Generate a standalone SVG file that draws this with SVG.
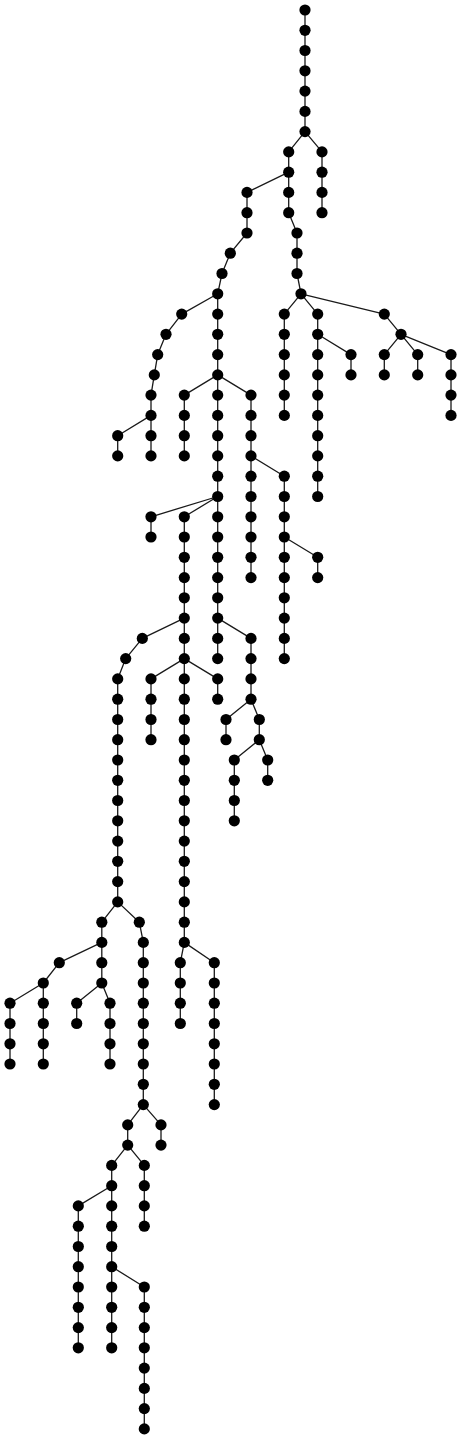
<svg xmlns="http://www.w3.org/2000/svg" width="462" height="1439" viewBox="0 0 462 1439">
<style>
.e{fill:none;stroke:#1a1a1a;stroke-width:1.3;stroke-linejoin:round}
circle{fill:#000}
</style>
<rect width="462" height="1439" fill="#fff"/>
<g id="connectors" class="e">
<polyline points="305,10 305,131.6"/>
<polyline points="305,131.6 322,151.9 322,212.7"/>
<polyline points="305,131.6 288.7,151.9 288.7,212.7 297,233 297,273.5 301,293.8"/>
<polyline points="288.7,172.2 247,192.4 247,233 230.3,253.2 222,273.5 217.7,293.8 217.7,658.6"/>
<polyline points="301,293.8 284.3,314.1 284.3,415.4"/>
<polyline points="301,293.8 317.7,314.1 317.7,496.5"/>
<polyline points="317.7,334.3 351,354.6 351,374.9"/>
<polyline points="301,293.8 384.3,314.1 401,334.3 384.3,354.6 384.3,374.9"/>
<polyline points="401,334.3 417.7,354.6 417.7,374.9"/>
<polyline points="401,334.3 451,354.6 451,415.4"/>
<polyline points="217.7,293.8 181.7,314.1 166,334.3 157.7,354.6 154.3,374.9 151,395.1 151,455.9"/>
<polyline points="151,415.4 117.7,435.7 117.7,455.9"/>
<polyline points="217.7,374.9 184.3,395.1 184.3,455.9"/>
<polyline points="217.7,374.9 251,395.1 251,577.6"/>
<polyline points="251,455.9 284.3,476.2 284.3,658.6"/>
<polyline points="284.3,537 317.7,557.3 317.7,577.6"/>
<polyline points="217.7,496.5 151,516.8 151,537"/>
<polyline points="217.7,496.5 184.3,516.8 184.3,942.4"/>
<polyline points="184.3,618.1 142.3,638.4 125.7,658.6 117.7,678.9 117.7,901.9"/>
<polyline points="184.3,658.6 151,678.9 151,739.7"/>
<polyline points="184.3,658.6 217.7,678.9 217.7,699.2"/>
<polyline points="217.7,618.1 251,638.4 251,699.2"/>
<polyline points="251,699.2 226,719.5 226,739.7"/>
<polyline points="251,699.2 259.3,719.5 259.3,739.7"/>
<polyline points="259.3,739.7 234.3,760 234.3,820.8"/>
<polyline points="259.3,739.7 267.7,760 267.7,780.3"/>
<polyline points="184.3,942.4 180.3,962.7 180.3,1023.5"/>
<polyline points="184.3,942.4 214.3,962.7 214.3,1104.6"/>
<polyline points="117.7,901.9 101.8,922.2 101.8,983"/>
<polyline points="101.8,942.4 59.3,962.7 43.3,983 43.3,1064"/>
<polyline points="43.3,983 10,1003.2 10,1064"/>
<polyline points="101.8,983 76.7,1003.2 76.7,1023.5"/>
<polyline points="101.8,983 110,1003.2 110,1064"/>
<polyline points="117.7,901.9 139.3,922.2 143.3,942.4 143.3,1104.6"/>
<polyline points="143.3,1104.6 127.7,1124.9 127.7,1145.1"/>
<polyline points="143.3,1104.6 161,1124.9 161,1145.1"/>
<polyline points="127.7,1145.1 111.7,1165.4 111.7,1347.8"/>
<polyline points="127.7,1145.1 144.3,1165.4 144.3,1226.2"/>
<polyline points="111.7,1185.7 78.3,1205.9 78.3,1347.8"/>
<polyline points="111.7,1266.7 144.3,1287 144.3,1428.9"/>
</g>
<g id="nodes">
<g id="n1"><circle cx="305" cy="10" r="5.6"/></g>
<g id="n2"><circle cx="305" cy="30.3" r="5.6"/></g>
<g id="n3"><circle cx="305" cy="50.5" r="5.6"/></g>
<g id="n4"><circle cx="305" cy="70.8" r="5.6"/></g>
<g id="n5"><circle cx="305" cy="91.1" r="5.6"/></g>
<g id="n6"><circle cx="305" cy="111.4" r="5.6"/></g>
<g id="n7"><circle cx="305" cy="131.6" r="5.6"/></g>
<g id="n8"><circle cx="322" cy="151.9" r="5.6"/></g>
<g id="n9"><circle cx="322" cy="172.2" r="5.6"/></g>
<g id="n10"><circle cx="322" cy="192.4" r="5.6"/></g>
<g id="n11"><circle cx="322" cy="212.7" r="5.6"/></g>
<g id="n12"><circle cx="288.7" cy="151.9" r="5.6"/></g>
<g id="n13"><circle cx="288.7" cy="172.2" r="5.6"/></g>
<g id="n14"><circle cx="288.7" cy="192.4" r="5.6"/></g>
<g id="n15"><circle cx="288.7" cy="212.7" r="5.6"/></g>
<g id="n16"><circle cx="247" cy="192.4" r="5.6"/></g>
<g id="n17"><circle cx="247" cy="212.7" r="5.6"/></g>
<g id="n18"><circle cx="247" cy="233" r="5.6"/></g>
<g id="n19"><circle cx="230.3" cy="253.2" r="5.6"/></g>
<g id="n20"><circle cx="222" cy="273.5" r="5.6"/></g>
<g id="n21"><circle cx="217.7" cy="293.8" r="5.6"/></g>
<g id="n22"><circle cx="217.7" cy="314.1" r="5.6"/></g>
<g id="n23"><circle cx="217.7" cy="334.3" r="5.6"/></g>
<g id="n24"><circle cx="217.7" cy="354.6" r="5.6"/></g>
<g id="n25"><circle cx="217.7" cy="374.9" r="5.6"/></g>
<g id="n26"><circle cx="217.7" cy="395.1" r="5.6"/></g>
<g id="n27"><circle cx="217.7" cy="415.4" r="5.6"/></g>
<g id="n28"><circle cx="217.7" cy="435.7" r="5.6"/></g>
<g id="n29"><circle cx="217.7" cy="455.9" r="5.6"/></g>
<g id="n30"><circle cx="217.7" cy="476.2" r="5.6"/></g>
<g id="n31"><circle cx="217.7" cy="496.5" r="5.6"/></g>
<g id="n32"><circle cx="217.7" cy="516.8" r="5.6"/></g>
<g id="n33"><circle cx="217.7" cy="537" r="5.6"/></g>
<g id="n34"><circle cx="217.7" cy="557.3" r="5.6"/></g>
<g id="n35"><circle cx="217.7" cy="577.6" r="5.6"/></g>
<g id="n36"><circle cx="217.7" cy="597.8" r="5.6"/></g>
<g id="n37"><circle cx="217.7" cy="618.1" r="5.6"/></g>
<g id="n38"><circle cx="217.7" cy="638.4" r="5.6"/></g>
<g id="n39"><circle cx="217.7" cy="658.6" r="5.6"/></g>
<g id="n40"><circle cx="297" cy="233" r="5.6"/></g>
<g id="n41"><circle cx="297" cy="253.2" r="5.6"/></g>
<g id="n42"><circle cx="297" cy="273.5" r="5.6"/></g>
<g id="n43"><circle cx="301" cy="293.8" r="5.6"/></g>
<g id="n44"><circle cx="284.3" cy="314.1" r="5.6"/></g>
<g id="n45"><circle cx="284.3" cy="334.3" r="5.6"/></g>
<g id="n46"><circle cx="284.3" cy="354.6" r="5.6"/></g>
<g id="n47"><circle cx="284.3" cy="374.9" r="5.6"/></g>
<g id="n48"><circle cx="284.3" cy="395.1" r="5.6"/></g>
<g id="n49"><circle cx="284.3" cy="415.4" r="5.6"/></g>
<g id="n50"><circle cx="317.7" cy="314.1" r="5.6"/></g>
<g id="n51"><circle cx="317.7" cy="334.3" r="5.6"/></g>
<g id="n52"><circle cx="317.7" cy="354.6" r="5.6"/></g>
<g id="n53"><circle cx="317.7" cy="374.9" r="5.6"/></g>
<g id="n54"><circle cx="317.7" cy="395.1" r="5.6"/></g>
<g id="n55"><circle cx="317.7" cy="415.4" r="5.6"/></g>
<g id="n56"><circle cx="317.7" cy="435.7" r="5.6"/></g>
<g id="n57"><circle cx="317.7" cy="455.9" r="5.6"/></g>
<g id="n58"><circle cx="317.7" cy="476.2" r="5.6"/></g>
<g id="n59"><circle cx="317.7" cy="496.5" r="5.6"/></g>
<g id="n60"><circle cx="351" cy="354.6" r="5.6"/></g>
<g id="n61"><circle cx="351" cy="374.9" r="5.6"/></g>
<g id="n62"><circle cx="384.3" cy="314.1" r="5.6"/></g>
<g id="n63"><circle cx="401" cy="334.3" r="5.6"/></g>
<g id="n64"><circle cx="384.3" cy="354.6" r="5.6"/></g>
<g id="n65"><circle cx="384.3" cy="374.9" r="5.6"/></g>
<g id="n66"><circle cx="417.7" cy="354.6" r="5.6"/></g>
<g id="n67"><circle cx="417.7" cy="374.9" r="5.6"/></g>
<g id="n68"><circle cx="451" cy="354.6" r="5.6"/></g>
<g id="n69"><circle cx="451" cy="374.9" r="5.6"/></g>
<g id="n70"><circle cx="451" cy="395.1" r="5.6"/></g>
<g id="n71"><circle cx="451" cy="415.4" r="5.6"/></g>
<g id="n72"><circle cx="181.7" cy="314.1" r="5.6"/></g>
<g id="n73"><circle cx="166" cy="334.3" r="5.6"/></g>
<g id="n74"><circle cx="157.7" cy="354.6" r="5.6"/></g>
<g id="n75"><circle cx="154.3" cy="374.9" r="5.6"/></g>
<g id="n76"><circle cx="151" cy="395.1" r="5.6"/></g>
<g id="n77"><circle cx="151" cy="415.4" r="5.6"/></g>
<g id="n78"><circle cx="151" cy="435.7" r="5.6"/></g>
<g id="n79"><circle cx="151" cy="455.9" r="5.6"/></g>
<g id="n80"><circle cx="117.7" cy="435.7" r="5.6"/></g>
<g id="n81"><circle cx="117.7" cy="455.9" r="5.6"/></g>
<g id="n82"><circle cx="184.3" cy="395.1" r="5.6"/></g>
<g id="n83"><circle cx="184.3" cy="415.4" r="5.6"/></g>
<g id="n84"><circle cx="184.3" cy="435.7" r="5.6"/></g>
<g id="n85"><circle cx="184.3" cy="455.9" r="5.6"/></g>
<g id="n86"><circle cx="251" cy="395.1" r="5.6"/></g>
<g id="n87"><circle cx="251" cy="415.4" r="5.6"/></g>
<g id="n88"><circle cx="251" cy="435.7" r="5.6"/></g>
<g id="n89"><circle cx="251" cy="455.9" r="5.6"/></g>
<g id="n90"><circle cx="251" cy="476.2" r="5.6"/></g>
<g id="n91"><circle cx="251" cy="496.5" r="5.6"/></g>
<g id="n92"><circle cx="251" cy="516.8" r="5.6"/></g>
<g id="n93"><circle cx="251" cy="537" r="5.6"/></g>
<g id="n94"><circle cx="251" cy="557.3" r="5.6"/></g>
<g id="n95"><circle cx="251" cy="577.6" r="5.6"/></g>
<g id="n96"><circle cx="284.3" cy="476.2" r="5.6"/></g>
<g id="n97"><circle cx="284.3" cy="496.5" r="5.6"/></g>
<g id="n98"><circle cx="284.3" cy="516.8" r="5.6"/></g>
<g id="n99"><circle cx="284.3" cy="537" r="5.6"/></g>
<g id="n100"><circle cx="284.3" cy="557.3" r="5.6"/></g>
<g id="n101"><circle cx="284.3" cy="577.6" r="5.6"/></g>
<g id="n102"><circle cx="284.3" cy="597.8" r="5.6"/></g>
<g id="n103"><circle cx="284.3" cy="618.1" r="5.6"/></g>
<g id="n104"><circle cx="284.3" cy="638.4" r="5.6"/></g>
<g id="n105"><circle cx="284.3" cy="658.6" r="5.6"/></g>
<g id="n106"><circle cx="317.7" cy="557.3" r="5.6"/></g>
<g id="n107"><circle cx="317.7" cy="577.6" r="5.6"/></g>
<g id="n108"><circle cx="151" cy="516.8" r="5.6"/></g>
<g id="n109"><circle cx="151" cy="537" r="5.6"/></g>
<g id="n110"><circle cx="184.3" cy="516.8" r="5.6"/></g>
<g id="n111"><circle cx="184.3" cy="537" r="5.6"/></g>
<g id="n112"><circle cx="184.3" cy="557.3" r="5.6"/></g>
<g id="n113"><circle cx="184.3" cy="577.6" r="5.6"/></g>
<g id="n114"><circle cx="184.3" cy="597.8" r="5.6"/></g>
<g id="n115"><circle cx="184.3" cy="618.1" r="5.6"/></g>
<g id="n116"><circle cx="184.3" cy="638.4" r="5.6"/></g>
<g id="n117"><circle cx="184.3" cy="658.6" r="5.6"/></g>
<g id="n118"><circle cx="184.3" cy="678.9" r="5.6"/></g>
<g id="n119"><circle cx="184.3" cy="699.2" r="5.6"/></g>
<g id="n120"><circle cx="184.3" cy="719.5" r="5.6"/></g>
<g id="n121"><circle cx="184.3" cy="739.7" r="5.6"/></g>
<g id="n122"><circle cx="184.3" cy="760" r="5.6"/></g>
<g id="n123"><circle cx="184.3" cy="780.3" r="5.6"/></g>
<g id="n124"><circle cx="184.3" cy="800.5" r="5.6"/></g>
<g id="n125"><circle cx="184.3" cy="820.8" r="5.6"/></g>
<g id="n126"><circle cx="184.3" cy="841.1" r="5.6"/></g>
<g id="n127"><circle cx="184.3" cy="861.3" r="5.6"/></g>
<g id="n128"><circle cx="184.3" cy="881.6" r="5.6"/></g>
<g id="n129"><circle cx="184.3" cy="901.9" r="5.6"/></g>
<g id="n130"><circle cx="184.3" cy="922.2" r="5.6"/></g>
<g id="n131"><circle cx="184.3" cy="942.4" r="5.6"/></g>
<g id="n132"><circle cx="142.3" cy="638.4" r="5.6"/></g>
<g id="n133"><circle cx="125.7" cy="658.6" r="5.6"/></g>
<g id="n134"><circle cx="117.7" cy="678.9" r="5.6"/></g>
<g id="n135"><circle cx="117.7" cy="699.2" r="5.6"/></g>
<g id="n136"><circle cx="117.7" cy="719.5" r="5.6"/></g>
<g id="n137"><circle cx="117.7" cy="739.7" r="5.6"/></g>
<g id="n138"><circle cx="117.7" cy="760" r="5.6"/></g>
<g id="n139"><circle cx="117.7" cy="780.3" r="5.6"/></g>
<g id="n140"><circle cx="117.7" cy="800.5" r="5.6"/></g>
<g id="n141"><circle cx="117.7" cy="820.8" r="5.6"/></g>
<g id="n142"><circle cx="117.7" cy="841.1" r="5.6"/></g>
<g id="n143"><circle cx="117.7" cy="861.3" r="5.6"/></g>
<g id="n144"><circle cx="117.7" cy="881.6" r="5.6"/></g>
<g id="n145"><circle cx="117.7" cy="901.9" r="5.6"/></g>
<g id="n146"><circle cx="151" cy="678.9" r="5.6"/></g>
<g id="n147"><circle cx="151" cy="699.2" r="5.6"/></g>
<g id="n148"><circle cx="151" cy="719.5" r="5.6"/></g>
<g id="n149"><circle cx="151" cy="739.7" r="5.6"/></g>
<g id="n150"><circle cx="217.7" cy="678.9" r="5.6"/></g>
<g id="n151"><circle cx="217.7" cy="699.2" r="5.6"/></g>
<g id="n152"><circle cx="251" cy="638.4" r="5.6"/></g>
<g id="n153"><circle cx="251" cy="658.6" r="5.6"/></g>
<g id="n154"><circle cx="251" cy="678.9" r="5.6"/></g>
<g id="n155"><circle cx="251" cy="699.2" r="5.6"/></g>
<g id="n156"><circle cx="226" cy="719.5" r="5.6"/></g>
<g id="n157"><circle cx="226" cy="739.7" r="5.6"/></g>
<g id="n158"><circle cx="259.3" cy="719.5" r="5.6"/></g>
<g id="n159"><circle cx="259.3" cy="739.7" r="5.6"/></g>
<g id="n160"><circle cx="234.3" cy="760" r="5.6"/></g>
<g id="n161"><circle cx="234.3" cy="780.3" r="5.6"/></g>
<g id="n162"><circle cx="234.3" cy="800.5" r="5.6"/></g>
<g id="n163"><circle cx="234.3" cy="820.8" r="5.6"/></g>
<g id="n164"><circle cx="267.7" cy="760" r="5.6"/></g>
<g id="n165"><circle cx="267.7" cy="780.3" r="5.6"/></g>
<g id="n166"><circle cx="180.3" cy="962.7" r="5.6"/></g>
<g id="n167"><circle cx="180.3" cy="983" r="5.6"/></g>
<g id="n168"><circle cx="180.3" cy="1003.2" r="5.6"/></g>
<g id="n169"><circle cx="180.3" cy="1023.5" r="5.6"/></g>
<g id="n170"><circle cx="214.3" cy="962.7" r="5.6"/></g>
<g id="n171"><circle cx="214.3" cy="983" r="5.6"/></g>
<g id="n172"><circle cx="214.3" cy="1003.2" r="5.6"/></g>
<g id="n173"><circle cx="214.3" cy="1023.5" r="5.6"/></g>
<g id="n174"><circle cx="214.3" cy="1043.8" r="5.6"/></g>
<g id="n175"><circle cx="214.3" cy="1064" r="5.6"/></g>
<g id="n176"><circle cx="214.3" cy="1084.3" r="5.6"/></g>
<g id="n177"><circle cx="214.3" cy="1104.6" r="5.6"/></g>
<g id="n178"><circle cx="101.8" cy="922.2" r="5.6"/></g>
<g id="n179"><circle cx="101.8" cy="942.4" r="5.6"/></g>
<g id="n180"><circle cx="101.8" cy="962.7" r="5.6"/></g>
<g id="n181"><circle cx="101.8" cy="983" r="5.6"/></g>
<g id="n182"><circle cx="59.3" cy="962.7" r="5.6"/></g>
<g id="n183"><circle cx="43.3" cy="983" r="5.6"/></g>
<g id="n184"><circle cx="43.3" cy="1003.2" r="5.6"/></g>
<g id="n185"><circle cx="43.3" cy="1023.5" r="5.6"/></g>
<g id="n186"><circle cx="43.3" cy="1043.8" r="5.6"/></g>
<g id="n187"><circle cx="43.3" cy="1064" r="5.6"/></g>
<g id="n188"><circle cx="10" cy="1003.2" r="5.6"/></g>
<g id="n189"><circle cx="10" cy="1023.5" r="5.6"/></g>
<g id="n190"><circle cx="10" cy="1043.8" r="5.6"/></g>
<g id="n191"><circle cx="10" cy="1064" r="5.6"/></g>
<g id="n192"><circle cx="76.7" cy="1003.2" r="5.6"/></g>
<g id="n193"><circle cx="76.7" cy="1023.5" r="5.6"/></g>
<g id="n194"><circle cx="110" cy="1003.2" r="5.6"/></g>
<g id="n195"><circle cx="110" cy="1023.5" r="5.6"/></g>
<g id="n196"><circle cx="110" cy="1043.8" r="5.6"/></g>
<g id="n197"><circle cx="110" cy="1064" r="5.6"/></g>
<g id="n198"><circle cx="139.3" cy="922.2" r="5.6"/></g>
<g id="n199"><circle cx="143.3" cy="942.4" r="5.6"/></g>
<g id="n200"><circle cx="143.3" cy="962.7" r="5.6"/></g>
<g id="n201"><circle cx="143.3" cy="983" r="5.6"/></g>
<g id="n202"><circle cx="143.3" cy="1003.2" r="5.6"/></g>
<g id="n203"><circle cx="143.3" cy="1023.5" r="5.6"/></g>
<g id="n204"><circle cx="143.3" cy="1043.8" r="5.6"/></g>
<g id="n205"><circle cx="143.3" cy="1064" r="5.6"/></g>
<g id="n206"><circle cx="143.3" cy="1084.3" r="5.6"/></g>
<g id="n207"><circle cx="143.3" cy="1104.6" r="5.6"/></g>
<g id="n208"><circle cx="127.7" cy="1124.9" r="5.6"/></g>
<g id="n209"><circle cx="127.7" cy="1145.1" r="5.6"/></g>
<g id="n210"><circle cx="161" cy="1124.9" r="5.6"/></g>
<g id="n211"><circle cx="161" cy="1145.1" r="5.6"/></g>
<g id="n212"><circle cx="111.7" cy="1165.4" r="5.6"/></g>
<g id="n213"><circle cx="111.7" cy="1185.7" r="5.6"/></g>
<g id="n214"><circle cx="111.7" cy="1205.9" r="5.6"/></g>
<g id="n215"><circle cx="111.7" cy="1226.2" r="5.6"/></g>
<g id="n216"><circle cx="111.7" cy="1246.5" r="5.6"/></g>
<g id="n217"><circle cx="111.7" cy="1266.7" r="5.6"/></g>
<g id="n218"><circle cx="111.7" cy="1287" r="5.6"/></g>
<g id="n219"><circle cx="111.7" cy="1307.3" r="5.6"/></g>
<g id="n220"><circle cx="111.7" cy="1327.6" r="5.6"/></g>
<g id="n221"><circle cx="111.7" cy="1347.8" r="5.6"/></g>
<g id="n222"><circle cx="144.3" cy="1165.4" r="5.6"/></g>
<g id="n223"><circle cx="144.3" cy="1185.7" r="5.6"/></g>
<g id="n224"><circle cx="144.3" cy="1205.9" r="5.6"/></g>
<g id="n225"><circle cx="144.3" cy="1226.2" r="5.6"/></g>
<g id="n226"><circle cx="78.3" cy="1205.9" r="5.6"/></g>
<g id="n227"><circle cx="78.3" cy="1226.2" r="5.6"/></g>
<g id="n228"><circle cx="78.3" cy="1246.5" r="5.6"/></g>
<g id="n229"><circle cx="78.3" cy="1266.7" r="5.6"/></g>
<g id="n230"><circle cx="78.3" cy="1287" r="5.6"/></g>
<g id="n231"><circle cx="78.3" cy="1307.3" r="5.6"/></g>
<g id="n232"><circle cx="78.3" cy="1327.6" r="5.6"/></g>
<g id="n233"><circle cx="78.3" cy="1347.8" r="5.6"/></g>
<g id="n234"><circle cx="144.3" cy="1287" r="5.6"/></g>
<g id="n235"><circle cx="144.3" cy="1307.3" r="5.6"/></g>
<g id="n236"><circle cx="144.3" cy="1327.6" r="5.6"/></g>
<g id="n237"><circle cx="144.3" cy="1347.8" r="5.6"/></g>
<g id="n238"><circle cx="144.3" cy="1368.1" r="5.6"/></g>
<g id="n239"><circle cx="144.3" cy="1388.4" r="5.6"/></g>
<g id="n240"><circle cx="144.3" cy="1408.6" r="5.6"/></g>
<g id="n241"><circle cx="144.3" cy="1428.9" r="5.6"/></g>
</g>
</svg>
